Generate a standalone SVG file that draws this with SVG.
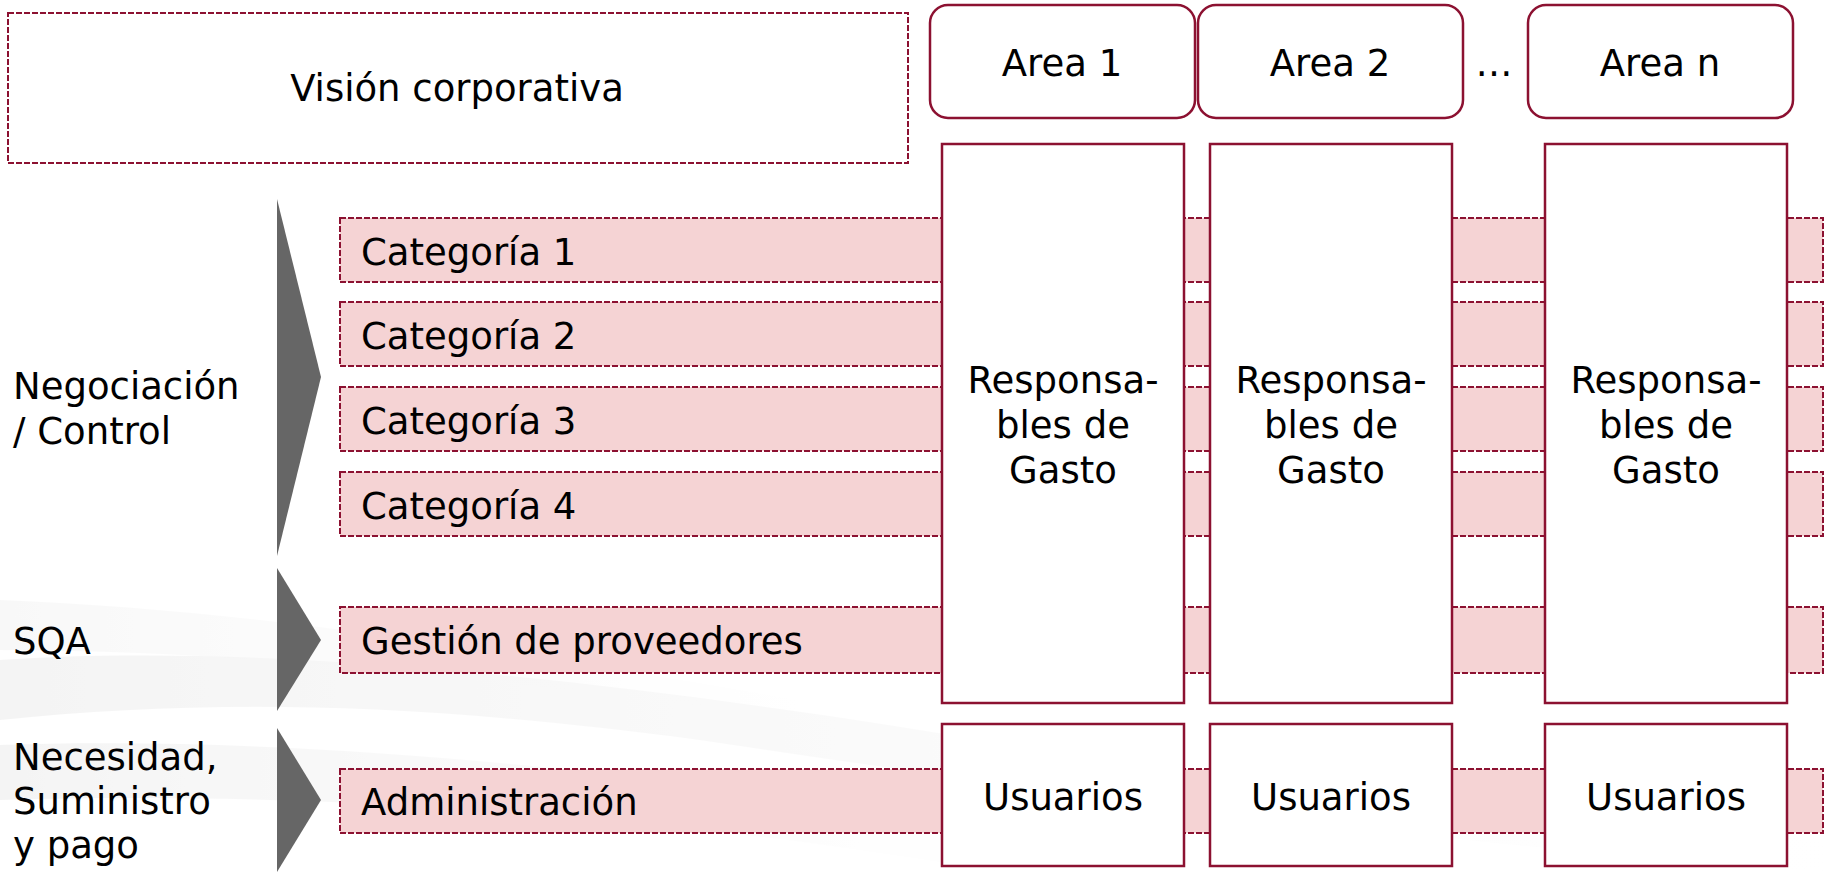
<svg xmlns="http://www.w3.org/2000/svg" width="1835" height="872" viewBox="0 0 1835 872">
  <defs>
    <linearGradient id="sw1" x1="0" y1="0" x2="1" y2="0">
      <stop offset="0" stop-color="#d9d9d9" stop-opacity="0.9"/>
      <stop offset="0.45" stop-color="#e4e4e4" stop-opacity="0.6"/>
      <stop offset="1" stop-color="#eeeeee" stop-opacity="0"/>
    </linearGradient>
  </defs>
  <style>
    text { font-family: "DejaVu Sans", Verdana, sans-serif; font-size: 37px; fill: #000; }
    .mid { text-anchor: middle; }
    .dash { fill: #ffffff; stroke: #8c1131; stroke-width: 2; stroke-dasharray: 6 2; }
    .band { fill: #f5d3d4; stroke: #8c1131; stroke-width: 2; stroke-dasharray: 6 2; }
    .box { fill: #ffffff; stroke: #8c1131; stroke-width: 2.5; }
    .tri { fill: #666666; }
  </style>
  <rect width="1835" height="872" fill="#ffffff"/>
  <g id="background" opacity="0.3">
    <path d="M0 660 C 300 640, 700 690, 1100 760 C 1400 810, 1650 830, 1835 840 L 1835 872 C 1500 850, 1100 800, 700 740 C 400 700, 200 700, 0 720 Z" fill="url(#sw1)"/>
    <path d="M0 745 C 300 735, 650 770, 1000 830 L 1000 872 C 700 820, 350 790, 0 800 Z" fill="url(#sw1)"/>
    <path d="M0 600 C 250 610, 500 650, 800 700 L 800 720 C 500 680, 250 650, 0 650 Z" fill="url(#sw1)" opacity="0.6"/>
  </g>

  <g id="vision">
    <rect class="dash" x="8" y="13" width="900" height="150"/>
    <text class="mid" x="457" y="101">Visión corporativa</text>
  </g>

  <g id="area1">
    <rect class="box" x="930" y="5" width="265" height="113" rx="18" ry="18" stroke-width="2"/>
    <text class="mid" x="1062" y="76">Area 1</text>
  </g>
  <g id="area2">
    <rect class="box" x="1198" y="5" width="265" height="113" rx="18" ry="18" stroke-width="2"/>
    <text class="mid" x="1330" y="76">Area 2</text>
  </g>
  <g id="ellipsis">
    <text class="mid" x="1494" y="76">…</text>
  </g>
  <g id="arean">
    <rect class="box" x="1528" y="5" width="265" height="113" rx="18" ry="18" stroke-width="2"/>
    <text class="mid" x="1660" y="76">Area n</text>
  </g>

  <g id="bands">
    <rect id="cat1" class="band" x="340" y="218" width="1483" height="64"/>
    <rect id="cat2" class="band" x="340" y="302" width="1483" height="64"/>
    <rect id="cat3" class="band" x="340" y="387" width="1483" height="64"/>
    <rect id="cat4" class="band" x="340" y="472" width="1483" height="64"/>
    <rect id="gestion" class="band" x="340" y="607" width="1483" height="66"/>
    <rect id="admin" class="band" x="340" y="769" width="1483" height="64"/>
  </g>
  <g id="band-labels">
    <text x="361" y="265">Categoría 1</text>
    <text x="361" y="349">Categoría 2</text>
    <text x="361" y="434">Categoría 3</text>
    <text x="361" y="519">Categoría 4</text>
    <text x="361" y="654">Gestión de proveedores</text>
    <text x="361" y="815">Administración</text>
  </g>

  <g id="resp1">
    <rect class="box" x="942" y="144" width="242" height="559"/>
    <text class="mid" x="1063" y="393">Responsa-</text>
    <text class="mid" x="1063" y="438">bles de</text>
    <text class="mid" x="1063" y="483">Gasto</text>
  </g>
  <g id="resp2">
    <rect class="box" x="1210" y="144" width="242" height="559"/>
    <text class="mid" x="1331" y="393">Responsa-</text>
    <text class="mid" x="1331" y="438">bles de</text>
    <text class="mid" x="1331" y="483">Gasto</text>
  </g>
  <g id="resp3">
    <rect class="box" x="1545" y="144" width="242" height="559"/>
    <text class="mid" x="1666" y="393">Responsa-</text>
    <text class="mid" x="1666" y="438">bles de</text>
    <text class="mid" x="1666" y="483">Gasto</text>
  </g>

  <g id="users1">
    <rect class="box" x="942" y="724" width="242" height="142"/>
    <text class="mid" x="1063" y="810">Usuarios</text>
  </g>
  <g id="users2">
    <rect class="box" x="1210" y="724" width="242" height="142"/>
    <text class="mid" x="1331" y="810">Usuarios</text>
  </g>
  <g id="users3">
    <rect class="box" x="1545" y="724" width="242" height="142"/>
    <text class="mid" x="1666" y="810">Usuarios</text>
  </g>

  <g id="arrows">
    <polygon class="tri" points="277,199 321,377 277,556"/>
    <polygon class="tri" points="277,568 321,640 277,711"/>
    <polygon class="tri" points="277,728 321,800 277,872"/>
  </g>

  <g id="negociacion">
    <text x="13" y="399">Negociación</text>
    <text x="13" y="444">/ Control</text>
  </g>
  <g id="sqa">
    <text x="13" y="654">SQA</text>
  </g>
  <g id="necesidad">
    <text x="13" y="770">Necesidad,</text>
    <text x="13" y="814">Suministro</text>
    <text x="13" y="858">y pago</text>
  </g>
</svg>
